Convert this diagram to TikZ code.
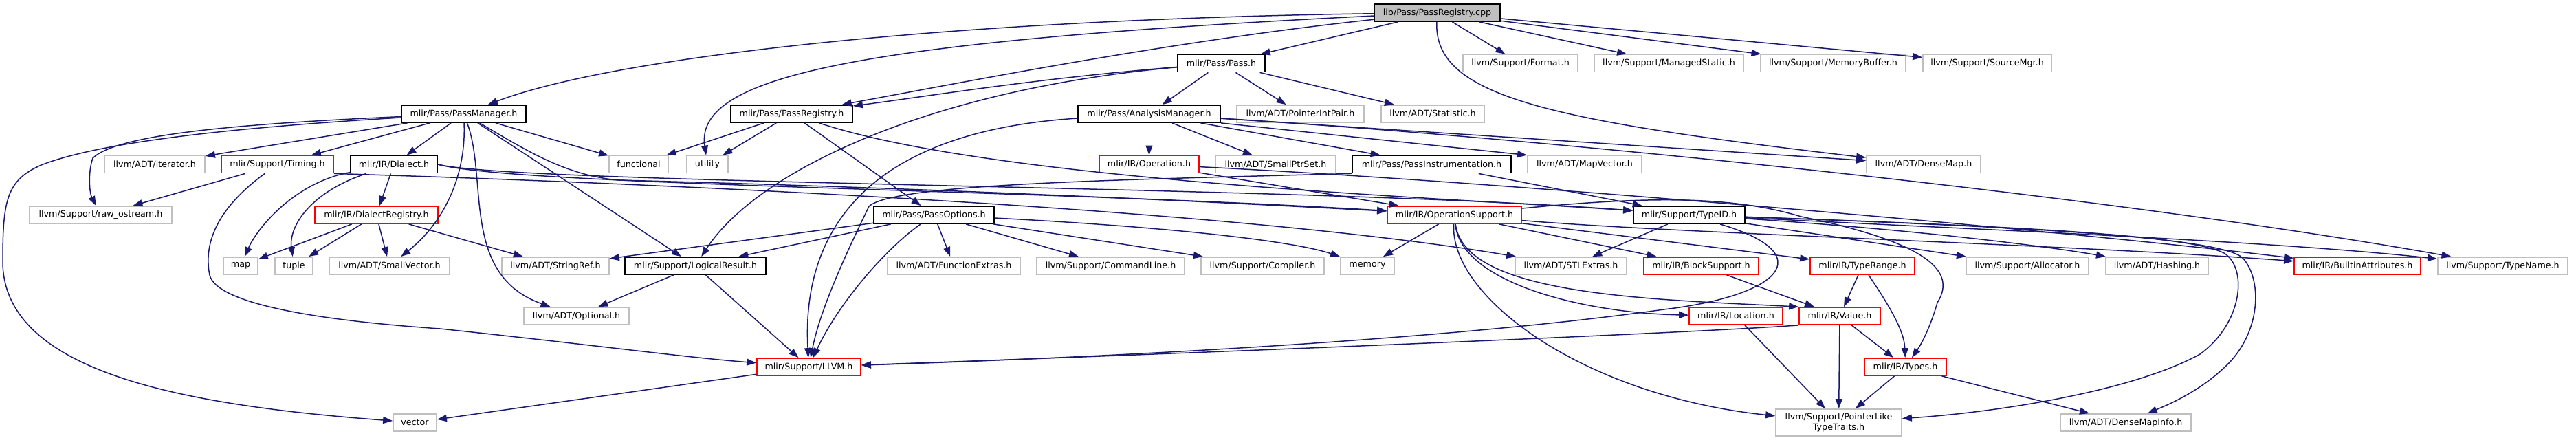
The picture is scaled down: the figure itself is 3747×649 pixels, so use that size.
\documentclass[tikz,border=0pt]{standalone}
\usepackage{fontspec}
\setmainfont{DejaVu Sans}
\usetikzlibrary{arrows.meta}
\definecolor{edgec}{HTML}{191970}
\definecolor{gb}{HTML}{BFBFBF}
\definecolor{rb}{HTML}{FF0000}
\begin{document}
\begin{tikzpicture}[x=0.5pt,y=-0.5pt,
 bx/.style={rectangle, inner sep=0pt, minimum height=12.5pt, font=\fontsize{6.35}{7.6}\selectfont, fill=white, line width=0.9pt},
 nb/.style={bx, draw=black},
 nr/.style={bx, draw=rb},
 ng/.style={bx, draw=gb},
 nroot/.style={bx, draw=black, fill=gb},
 wd/.style={minimum width=#1*0.5pt},
 e/.style={draw=edgec, line width=0.75pt, -{Triangle[length=7pt,width=5pt]}}
]
\useasboundingbox (0,0) rectangle (3747,649);
% row 0
\node[nroot,wd=183] (R) at (2090.5,18.5) {lib/Pass/PassRegistry.cpp};
% row 1
\node[nb,wd=127] (P) at (1776.5,92) {mlir/Pass/Pass.h};
\node[ng,wd=167] (Fmt) at (2211.5,92) {llvm/Support/Format.h};
\node[ng,wd=217] (MS) at (2427.5,92) {llvm/Support/ManagedStatic.h};
\node[ng,wd=211] (MB) at (2666.5,92) {llvm/Support/MemoryBuffer.h};
\node[ng,wd=187] (SM) at (2890.5,92) {llvm/Support/SourceMgr.h};
% row 2
\node[nb,wd=181] (PM) at (674.5,165.5) {mlir/Pass/PassManager.h};
\node[nb,wd=177] (PRh) at (1151.5,165.5) {mlir/Pass/PassRegistry.h};
\node[nb,wd=207] (AM) at (1671.5,165.5) {mlir/Pass/AnalysisManager.h};
\node[ng,wd=185] (PIP) at (1891.5,165.5) {llvm/ADT/PointerIntPair.h};
\node[ng,wd=150] (Stat) at (2084,165.5) {llvm/ADT/Statistic.h};
% row 3
\node[ng,wd=146] (Iter) at (225,239) {llvm/ADT/iterator.h};
\node[nr,wd=163] (Tim) at (403.5,239) {mlir/Support/Timing.h};
\node[nb,wd=126] (Dia) at (573,239) {mlir/IR/Dialect.h};
\node[ng,wd=86] (Func) at (929,239) {functional};
\node[ng,wd=60] (Util) at (1029,239) {utility};
\node[nr,wd=145] (Op) at (1671.5,239) {mlir/IR/Operation.h};
\node[ng,wd=175] (SPS) at (1855.5,239) {llvm/ADT/SmallPtrSet.h};
\node[nb,wd=231] (PI) at (2082.5,239) {mlir/Pass/PassInstrumentation.h};
\node[ng,wd=166] (MV) at (2305,239) {llvm/ADT/MapVector.h};
\node[ng,wd=166] (DM) at (2798,239) {llvm/ADT/DenseMap.h};
% row 4
\node[ng,wd=207] (Raw) at (146.5,312.5) {llvm/Support/raw\_ostream.h};
\node[nr,wd=179] (DR) at (547.5,312.5) {mlir/IR/DialectRegistry.h};
\node[nb,wd=175] (PO) at (1358.5,312.5) {mlir/Pass/PassOptions.h};
\node[nr,wd=195] (OS) at (2115.5,312.5) {mlir/IR/OperationSupport.h};
\node[nb,wd=162] (TID) at (2457,312.5) {mlir/Support/TypeID.h};
% row 5
\node[ng,wd=50] (Map) at (350,386.5) {map};
\node[ng,wd=55] (Tup) at (427.5,386.5) {tuple};
\node[ng,wd=175] (SV) at (566.5,386.5) {llvm/ADT/SmallVector.h};
\node[ng,wd=156] (SR) at (808,386.5) {llvm/ADT/StringRef.h};
\node[nb,wd=205] (LR) at (1011.5,386.5) {mlir/Support/LogicalResult.h};
\node[ng,wd=193] (FE) at (1387.5,386.5) {llvm/ADT/FunctionExtras.h};
\node[ng,wd=215] (CL) at (1615.5,386.5) {llvm/Support/CommandLine.h};
\node[ng,wd=179] (Comp) at (1836.5,386.5) {llvm/Support/Compiler.h};
\node[ng,wd=78] (Mem) at (1989,386.5) {memory};
\node[ng,wd=162] (STL) at (2285,386.5) {llvm/ADT/STLExtras.h};
\node[nr,wd=167] (BS) at (2474.5,386.5) {mlir/IR/BlockSupport.h};
\node[nr,wd=152] (TR) at (2709,386.5) {mlir/IR/TypeRange.h};
\node[ng,wd=178] (All) at (2949,386.5) {llvm/Support/Allocator.h};
\node[ng,wd=149] (Hash) at (3137.5,386.5) {llvm/ADT/Hashing.h};
\node[nr,wd=184] (BA) at (3429,386.5) {mlir/IR/BuiltinAttributes.h};
\node[ng,wd=189] (TN) at (3640.5,386.5) {llvm/Support/TypeName.h};
% row 6
\node[ng,wd=153] (Opt) at (838.5,459.5) {llvm/ADT/Optional.h};
\node[nr,wd=136] (Loc) at (2525,459.5) {mlir/IR/Location.h};
\node[nr,wd=118] (Val) at (2676,459.5) {mlir/IR/Value.h};
% row 7
\node[nr,wd=151] (LLVM) at (1176.5,533.5) {mlir/Support/LLVM.h};
\node[nr,wd=119] (Typ) at (2771.5,533.5) {mlir/IR/Types.h};
% row 8
\node[ng,wd=183,minimum height=19.5pt,align=center] (PLTT) at (2674.5,614.5) {llvm/Support/PointerLike\\TypeTraits.h};
\node[ng,wd=63] (Vec) at (603.5,614.5) {vector};
\node[ng,wd=190] (DMI) at (3092,614.5) {llvm/ADT/DenseMapInfo.h};

% ---- edges: root
\draw[e] (R) .. controls (1400,28) and (900,80) .. (PM);
\draw[e] (R) .. controls (1250,60) and (1010,110) .. (Util);
\draw[e] (R) .. controls (1700,60) and (1400,120) .. (PRh);
\draw[e] (R) -- (P);
\draw[e] (R) -- (Fmt);
\draw[e] (R) -- (MS);
\draw[e] (R) -- (MB);
\draw[e] (R) -- (SM);
\draw[e] (R) .. controls (2085,140) and (2250,175) .. (DM);
% PassManager
\draw[e] (PM) .. controls (350,180) and (170,195) .. (135,230) .. controls (128,250) and (130,280) .. (Raw);
\draw[e] (PM) .. controls (350,185) and (150,205) .. (60,240) .. controls (10,262) and (4,290) .. (4,380) .. controls (4,545) and (280,590) .. (Vec);
\draw[e] (PM) -- (Iter);
\draw[e] (PM) -- (Tim);
\draw[e] (PM) -- (Dia);
\draw[e] (PM) .. controls (678,250) and (650,320) .. (SV);
\draw[e] (PM) .. controls (710,260) and (670,400) .. (Opt);
\draw[e] (PM) -- (LR);
\draw[e] (PM) .. controls (760,215) and (820,255) .. (900,262) .. controls (1300,272) and (1700,290) .. (OS);
\draw[e] (PM) -- (Func);
% Pass
\draw[e] (P) -- (AM);
\draw[e] (P) -- (PIP);
\draw[e] (P) -- (Stat);
\draw[e] (P) .. controls (1500,115) and (1350,140) .. (PRh);
\draw[e] (P) .. controls (1350,130) and (1100,250) .. (LR);
% PassRegistry.h
\draw[e] (PRh) -- (Func);
\draw[e] (PRh) -- (Util);
\draw[e] (PRh) -- (PO);
\draw[e] (PRh) .. controls (1450,265) and (2150,290) .. (TID);
% AnalysisManager
\draw[e] (AM) .. controls (1280,190) and (1165,320) .. (LLVM);
\draw[e] (AM) -- (Op);
\draw[e] (AM) -- (SPS);
\draw[e] (AM) -- (PI);
\draw[e] (AM.south east) -- (MV.north west);
\draw[e] (AM) -- (DM);
\draw[e] (AM) .. controls (2300,205) and (3100,290) .. (TN);
% Operation
\draw[e] (Op) -- (OS);
\draw[e] (Op) .. controls (2200,265) and (3000,335) .. (BA);
% PassInstrumentation
\draw[e] (PI.south west) .. controls (1600,262) and (1300,268) .. (1264,300) .. controls (1245,340) and (1195,440) .. (LLVM);
\draw[e] (PI) -- (TID);
% Dialect
\draw[e] (Dia) .. controls (430,265) and (375,330) .. (Map);
\draw[e] (Dia) .. controls (450,280) and (420,330) .. (Tup);
\draw[e] (Dia) -- (DR);
\draw[e] (Dia.east) .. controls (750,270) and (1500,275) .. (OS);
\draw[e] (Dia.east) .. controls (750,268) and (1900,270) .. (TID);
% DialectRegistry
\draw[e] (DR) -- (Map);
\draw[e] (DR) -- (Tup);
\draw[e] (DR) -- (SV);
\draw[e] (DR) -- (SR);
% Timing
\draw[e] (Tim) -- (Raw);
\draw[e] (Tim) .. controls (320,300) and (295,350) .. (305,400) .. controls (315,440) and (450,465) .. (640,478) .. controls (850,500) and (1000,520) .. (LLVM);
\draw[e] (Tim.south east) .. controls (1000,268) and (1800,305) .. (STL);
% PassOptions
\draw[e] (PO) -- (LR);
\draw[e] (PO) -- (SR);
\draw[e] (PO) .. controls (1290,360) and (1220,440) .. (LLVM);
\draw[e] (PO) -- (FE);
\draw[e] (PO) -- (CL);
\draw[e] (PO) -- (Comp);
\draw[e] (PO) .. controls (1700,330) and (1880,350) .. (Mem);
% LogicalResult, LLVM
\draw[e] (LR) -- (Opt);
\draw[e] (LR) -- (LLVM);
\draw[e] (LLVM) -- (Vec);
% OperationSupport
\draw[e] (OS) -- (Mem);
\draw[e] (OS) .. controls (2108,430) and (2300,575) .. (PLTT);
\draw[e] (OS) .. controls (2125,410) and (2300,455) .. (Loc);
\draw[e] (OS) .. controls (2130,430) and (2400,435) .. (Val.north west);
\draw[e] (OS) -- (BS);
\draw[e] (OS) -- (TR);
\draw[e] (OS) .. controls (2450,340) and (3000,355) .. (BA);
\draw[e] (OS) .. controls (2400,285) and (2520,285) .. (2620,315) .. controls (2790,350) and (2850,390) .. (2818,440) .. controls (2808,475) and (2795,500) .. (Typ);
% IR small
\draw[e] (BS) -- (Val);
\draw[e] (TR) -- (Val);
\draw[e] (TR) .. controls (2745,440) and (2770,480) .. (Typ);
\draw[e] (Loc) -- (PLTT);
\draw[e] (Val) -- (PLTT);
\draw[e] (Val) -- (Typ);
\draw[e] (Val.south west) .. controls (2450,485) and (1700,515) .. (LLVM);
\draw[e] (Typ) -- (PLTT);
\draw[e] (Typ) -- (DMI);
% TypeID
\draw[e] (TID) -- (STL);
\draw[e] (TID) .. controls (2650,370) and (2590,430) .. (2420,450) .. controls (2100,495) and (1600,520) .. (LLVM);
\draw[e] (TID) -- (All);
\draw[e] (TID) .. controls (2800,335) and (2990,360) .. (Hash);
\draw[e] (TID) .. controls (2900,335) and (3300,350) .. (TN);
\draw[e] (TID) .. controls (2900,328) and (3180,340) .. (3235,368) .. controls (3270,390) and (3262,470) .. (3200,515) .. controls (3100,570) and (2900,600) .. (PLTT);
\draw[e] (TID) .. controls (2950,330) and (3230,345) .. (3262,375) .. controls (3290,405) and (3290,480) .. (3240,530) .. controls (3200,570) and (3150,590) .. (DMI);
\end{tikzpicture}
\end{document}
